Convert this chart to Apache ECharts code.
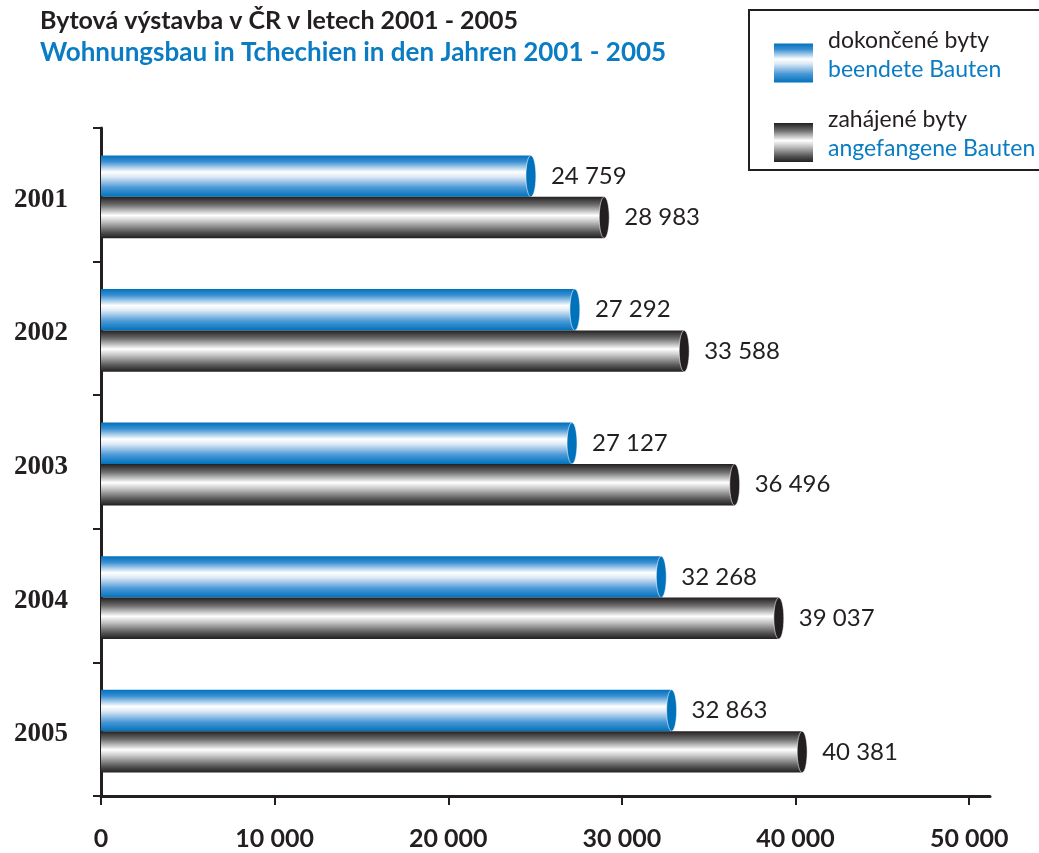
<!DOCTYPE html>
<html>
<head>
<meta charset="utf-8">
<script src="https://cdn.jsdelivr.net/npm/echarts@6/dist/echarts.min.js"></script>
<style>
  html, body { margin: 0; padding: 0; background: #fff; }
  #chart { width: 1039px; height: 853px; }
</style>
</head>
<body>
<div id="chart"></div>
<script>
var years = ['2001', '2002', '2003', '2004', '2005'];
var completed = [24759, 27292, 27127, 32268, 32863];   // dokončené byty
var started = [28983, 33588, 36496, 39037, 40381];     // zahájené byty
var xTicks = [0, 10000, 20000, 30000, 40000, 50000];
var seriesNames = ['dokončené byty', 'zahájené byty'];
var germanNames = ['beendete Bauten', 'angefangene Bauten'];

var ink = '#231f20';
var blue = '#0a7cc4';

function fmt(v) {
  return String(v).replace(/\B(?=(\d{3})+(?!\d))/g, ' ');
}

function blueGrad() {
  return new echarts.graphic.LinearGradient(0, 0, 0, 1, [
    { offset: 0, color: '#0072bc' },
    { offset: 0.15, color: '#3a8fd2' },
    { offset: 0.4, color: '#ffffff' },
    { offset: 0.52, color: '#dce9f6' },
    { offset: 0.78, color: '#4a98d6' },
    { offset: 1, color: '#0072bc' }
  ]);
}
function blackGrad() {
  return new echarts.graphic.LinearGradient(0, 0, 0, 1, [
    { offset: 0, color: '#231f20' },
    { offset: 0.2, color: '#707070' },
    { offset: 0.45, color: '#ffffff' },
    { offset: 0.6, color: '#c4c4c4' },
    { offset: 0.85, color: '#555555' },
    { offset: 1, color: '#231f20' }
  ]);
}

function makeRender(which) {
  return function (params, api) {
    var v = api.value(0);
    var c = api.value(1);
    var end = api.coord([v, c]);
    var start = api.coord([0, c]);
    var band = api.size([0, 1])[1];
    var h = band * 0.31;
    var top = which === 0 ? end[1] - h + 2 : end[1] + 2;
    var mid = top + h / 2;
    return {
      type: 'group',
      children: [
        {
          type: 'rect',
          shape: { x: start[0], y: top, width: end[0] - start[0], height: h },
          style: { fill: which === 0 ? blueGrad() : blackGrad() }
        },
        {
          type: 'ellipse',
          shape: { cx: end[0], cy: mid, rx: 5, ry: h / 2 },
          style: {
            fill: which === 0 ? '#0072bc' : ink,
            stroke: 'rgba(255,255,255,0.55)',
            lineWidth: 1
          }
        },
        {
          type: 'text',
          x: end[0] + 20,
          y: mid,
          style: {
            text: fmt(v),
            fill: ink,
            font: '24px Lato, "Open Sans", sans-serif',
            verticalAlign: 'middle',
            align: 'left'
          }
        }
      ]
    };
  };
}

function toPairs(arr) {
  return arr.map(function (v, i) { return [v, i]; });
}

var myChart = echarts.init(document.getElementById('chart'));
myChart.setOption({
  backgroundColor: '#fff',
  animation: false,
  title: {
    left: 40,
    top: 5,
    padding: 0,
    text: '{a|Bytová výstavba v ČR v letech 2001 - 2005}\n{b|Wohnungsbau in Tchechien in den Jahren 2001 - 2005}',
    textStyle: {
      rich: {
        a: { color: ink, fontFamily: 'Lato', fontWeight: 'bold', fontSize: 25, lineHeight: 32 },
        b: { color: blue, fontFamily: 'Lato', fontWeight: 'bold', fontSize: 26, lineHeight: 32 }
      }
    }
  },
  graphic: [
    {
      type: 'rect',
      shape: { x: 749, y: 10, width: 310, height: 160 },
      style: { fill: 'none', stroke: ink, lineWidth: 2 },
      z: 10
    }
  ],
  legend: {
    left: 774,
    top: 29,
    padding: 0,
    orient: 'vertical',
    selectedMode: false,
    icon: 'rect',
    itemWidth: 39,
    itemHeight: 39,
    itemGap: 26,
    data: [
      { name: seriesNames[0], itemStyle: { color: blueGrad() } },
      { name: seriesNames[1], itemStyle: { color: blackGrad() } }
    ],
    formatter: function (name) {
      var i = seriesNames.indexOf(name);
      return '{a|' + name + '}\n{b|' + germanNames[i] + '}';
    },
    textStyle: {
      padding: [0, 0, 16, 10],
      rich: {
        a: { color: ink, fontFamily: 'Lato', fontSize: 23, lineHeight: 29 },
        b: { color: blue, fontFamily: 'Lato', fontSize: 23, lineHeight: 29 }
      }
    }
  },
  grid: { left: 101, right: 49, top: 128, bottom: 57 },
  xAxis: {
    type: 'value',
    min: 0,
    max: 51200,
    interval: 10000,
    splitLine: { show: false },
    axisLine: { show: true, lineStyle: { color: ink, width: 3 } },
    axisTick: { show: true, length: 9, customValues: xTicks, lineStyle: { color: ink, width: 2 } },
    axisLabel: {
      customValues: xTicks,
      margin: 30,
      color: ink,
      fontFamily: 'Lato',
      fontWeight: 'bold',
      fontSize: 25,
      formatter: function (v) { return fmt(v); }
    }
  },
  yAxis: {
    type: 'category',
    inverse: true,
    data: years,
    axisLine: { show: true, lineStyle: { color: ink, width: 3 } },
    axisTick: { show: true, length: 8, lineStyle: { color: ink, width: 2 } },
    axisLabel: {
      margin: 33,
      verticalAlign: 'top',
      lineHeight: 10,
      color: ink,
      fontFamily: '"Liberation Serif", serif',
      fontWeight: 'bold',
      fontSize: 27
    }
  },
  series: [
    {
      name: seriesNames[0],
      type: 'custom',
      clip: false,
      encode: { x: 0, y: 1 },
      renderItem: makeRender(0),
      data: toPairs(completed)
    },
    {
      name: seriesNames[1],
      type: 'custom',
      clip: false,
      encode: { x: 0, y: 1 },
      renderItem: makeRender(1),
      data: toPairs(started)
    }
  ]
});
</script>
</body>
</html>
